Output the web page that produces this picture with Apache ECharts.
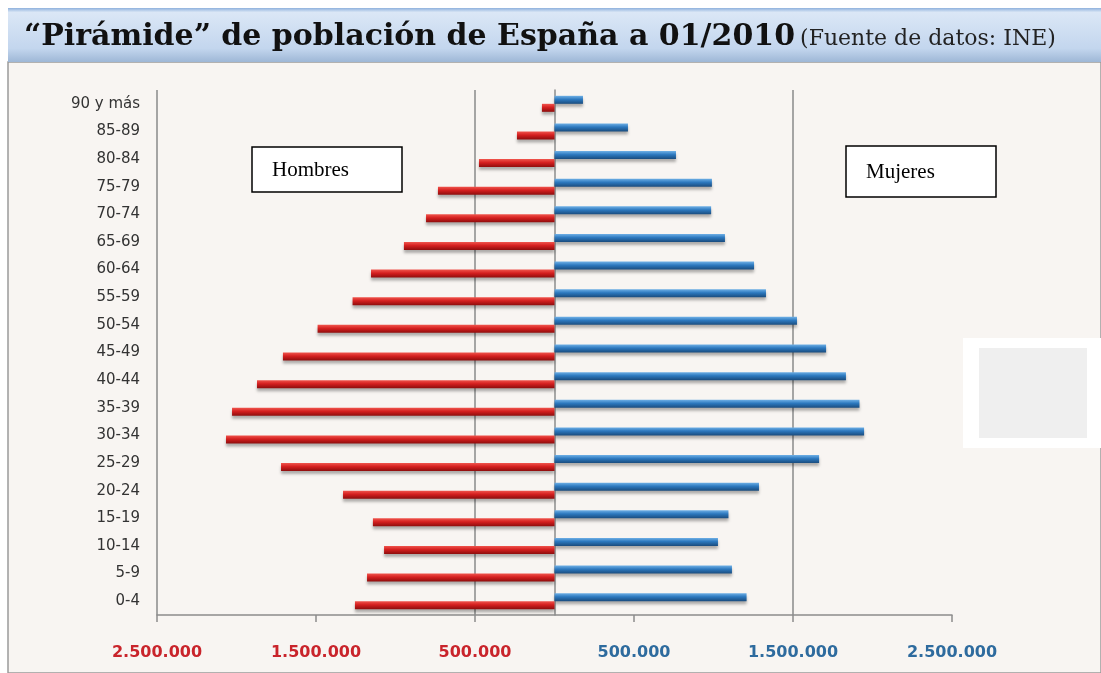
<!DOCTYPE html>
<html lang="es">
<head>
    <meta charset="UTF-8">
    <title>Pirámide de población de España 01/2010</title>
    <script type="text/javascript" src="https://cdn.jsdelivr.net/npm/echarts@6/dist/echarts.min.js"></script>
    <style>
        html, body { margin: 0; padding: 0; background: #ffffff; }
    </style>
</head>
<body>
<div id="main" style="width: 1101px; height: 673px;"></div>

<script>
    // grupos de edad, de abajo arriba
    var categorias = ['0-4', '5-9', '10-14', '15-19', '20-24', '25-29', '30-34', '35-39', '40-44',
        '45-49', '50-54', '55-59', '60-64', '65-69', '70-74', '75-79', '80-84', '85-89', '90 y más'];

    // poblacion
    var hombres = [1255000, 1179000, 1072000, 1142000, 1330000, 1720000, 2066000, 2028000, 1871000,
        1708000, 1490000, 1270000, 1154000, 947000, 808000, 733000, 475000, 236000, 79000];
    var mujeres = [1208000, 1116000, 1028000, 1094000, 1286000, 1664000, 1947000, 1918000, 1833000,
        1708000, 1525000, 1330000, 1255000, 1072000, 985000, 990000, 764000, 462000, 179000];

    var ejeMin = -2500000;
    var ejeMax = 2500000;
    var ejePaso = 500000;
    var marcas = [-2500000, -1500000, -500000, 500000, 1500000, 2500000];

    function miles(v) {
        return String(Math.abs(v)).replace(/\B(?=(\d{3})+(?!\d))/g, '.');
    }

    var myChart = echarts.init(document.getElementById('main'));

    var rojo = new echarts.graphic.LinearGradient(0, 0, 0, 1, [
        {offset: 0, color: '#f0554d'},
        {offset: 0.45, color: '#d41f1f'},
        {offset: 1, color: '#8e0d0d'}
    ]);
    var azul = new echarts.graphic.LinearGradient(0, 0, 0, 1, [
        {offset: 0, color: '#6fb0e6'},
        {offset: 0.45, color: '#2c78be'},
        {offset: 1, color: '#1a4c7e'}
    ]);

    var option = {
        backgroundColor: '#ffffff',
        animation: false,
        title: {
            left: 19,
            top: 17,
            text: '{a|“Pirámide” de población de España a 01/2010} {b|(Fuente de datos: INE)}',
            textStyle: {
                rich: {
                    a: {fontFamily: 'DejaVu Serif', fontWeight: 'bold', fontSize: 30, color: '#111111'},
                    b: {fontFamily: 'DejaVu Serif', fontWeight: 'normal', fontSize: 22, color: '#222222',
                        padding: [4, 0, 0, 0]}
                }
            }
        },
        graphic: [
            {
                type: 'rect', z: -10, silent: true,
                shape: {x: 8, y: 62, width: 1093, height: 611},
                style: {fill: '#f8f5f2', stroke: '#9a9a9a', lineWidth: 1.5}
            },
            {
                type: 'rect', z: -9, silent: true,
                shape: {x: 8, y: 8, width: 1093, height: 54},
                style: {
                    fill: new echarts.graphic.LinearGradient(0, 0, 0, 1, [
                        {offset: 0, color: '#8fb1dd'},
                        {offset: 0.08, color: '#dbe7f6'},
                        {offset: 0.75, color: '#c3d6ee'},
                        {offset: 1, color: '#9eb7d6'}
                    ])
                }
            },
            {
                type: 'rect', z: 10, silent: true,
                shape: {x: 963, y: 338, width: 138, height: 110},
                style: {fill: '#ffffff'}
            },
            {
                type: 'rect', z: 11, silent: true,
                shape: {x: 979, y: 348, width: 108, height: 90},
                style: {fill: '#efefef'}
            },
            {
                type: 'group', z: 10, silent: true,
                children: [
                    {type: 'rect', shape: {x: 252, y: 147, width: 150, height: 45},
                        style: {fill: '#ffffff', stroke: '#000000', lineWidth: 1.5}},
                    {type: 'text', x: 272, y: 170,
                        style: {text: 'Hombres', fontFamily: 'Liberation Serif', fontSize: 21,
                            fill: '#000000', verticalAlign: 'middle'}}
                ]
            },
            {
                type: 'group', z: 10, silent: true,
                children: [
                    {type: 'rect', shape: {x: 846, y: 146, width: 150, height: 51},
                        style: {fill: '#ffffff', stroke: '#000000', lineWidth: 1.5}},
                    {type: 'text', x: 866, y: 172,
                        style: {text: 'Mujeres', fontFamily: 'Liberation Serif', fontSize: 21,
                            fill: '#000000', verticalAlign: 'middle'}}
                ]
            }
        ],
        grid: {
            left: 157,
            right: 149,
            top: 90,
            bottom: 58
        },
        xAxis: {
            type: 'value',
            min: ejeMin,
            max: ejeMax,
            interval: ejePaso,
            axisLine: {show: true, onZero: false, lineStyle: {color: '#8c8c8c', width: 1.5}},
            axisTick: {show: true, length: 7, customValues: marcas, lineStyle: {color: '#8c8c8c', width: 1.5}},
            splitLine: {show: true, lineStyle: {color: ['#8a8a8a', 'rgba(0,0,0,0)'], width: 1.5}},
            axisLabel: {
                margin: 30,
                fontFamily: 'DejaVu Sans',
                fontWeight: 'bold',
                fontSize: 16,
                formatter: function (v) {
                    return marcas.indexOf(v) >= 0 ? miles(v) : '';
                },
                color: function (v) {
                    return v < 0 ? '#c9242b' : '#2e6b9e';
                }
            }
        },
        yAxis: {
            type: 'category',
            data: categorias,
            axisLine: {show: true, lineStyle: {color: '#8c8c8c', width: 1.5}},
            axisTick: {show: false},
            axisLabel: {
                margin: 17,
                fontFamily: 'DejaVu Sans',
                fontSize: 15,
                color: '#333333'
            }
        },
        series: [
            {
                name: 'Mujeres',
                type: 'bar',
                barWidth: 8,
                barGap: '0%',
                data: mujeres,
                itemStyle: {
                    color: azul,
                    shadowColor: 'rgba(0,0,0,0.3)',
                    shadowBlur: 3,
                    shadowOffsetY: 3
                }
            },
            {
                name: 'Hombres',
                type: 'bar',
                barWidth: 8,
                barGap: '0%',
                data: hombres.map(function (v) { return -v; }),
                itemStyle: {
                    color: rojo,
                    shadowColor: 'rgba(0,0,0,0.3)',
                    shadowBlur: 3,
                    shadowOffsetY: 3
                }
            }
        ]
    };

    myChart.setOption(option);
</script>
</body>
</html>
